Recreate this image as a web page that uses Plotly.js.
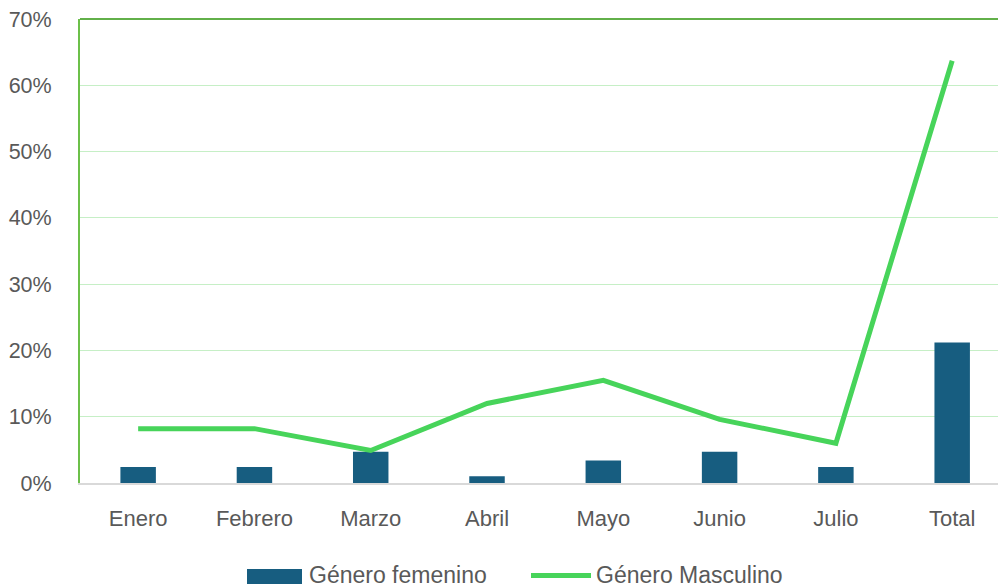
<!DOCTYPE html>
<html>
<head>
<meta charset="utf-8">
<script src="https://cdn.plot.ly/plotly-3.0.1.min.js"></script>
<style>html,body{margin:0;padding:0;background:#fff;}#chart{width:998px;height:588px;}</style>
</head>
<body>
<div id="chart"></div>
<script>
const categories = ["Enero", "Febrero", "Marzo", "Abril", "Mayo", "Junio", "Julio", "Total"];
const femenino = [0.024, 0.024, 0.047, 0.010, 0.034, 0.047, 0.024, 0.212];
const masculino = [0.082, 0.082, 0.049, 0.120, 0.155, 0.096, 0.060, 0.637];
const yTicks = [0, 0.1, 0.2, 0.3, 0.4, 0.5, 0.6, 0.7];
const yTickText = ["0%", "10%", "20%", "30%", "40%", "50%", "60%", "70%"];
const seriesNames = ["Género femenino", "Género Masculino"];

const font = "Liberation Sans, Arial, sans-serif";
const barColor = "#175d80";
const lineColor = "#47d45a";

// plot area in pixels (for the hand-built legend)
const L = 80, T = 19, W = 918, H = 464;
const px = x => (x - L) / W;
const py = y => (T + H - y) / H;

const traces = [
  {
    type: "bar",
    name: seriesNames[0],
    x: categories,
    y: femenino,
    width: 0.305,
    marker: {color: barColor},
    hoverinfo: "skip"
  },
  {
    type: "scatter",
    mode: "lines",
    name: seriesNames[1],
    x: categories,
    y: masculino,
    line: {color: lineColor, width: 5},
    hoverinfo: "skip"
  }
];

const layout = {
  width: 998,
  height: 588,
  margin: {l: L, r: 998 - L - W, t: T, b: 588 - T - H, autoexpand: false},
  paper_bgcolor: "#ffffff",
  plot_bgcolor: "#ffffff",
  font: {family: font, size: 21, color: "#595959"},
  showlegend: false,
  xaxis: {
    type: "category",
    range: [-0.5, 7.394],
    showgrid: false,
    showline: true,
    linecolor: "#d9d9d9",
    linewidth: 1.5,
    ticks: "",
    ticklabelstandoff: 15,
    tickfont: {family: font, size: 22, color: "#595959"},
    zeroline: false,
    fixedrange: true
  },
  yaxis: {
    range: [0, 0.7],
    tickvals: yTicks,
    ticktext: yTickText,
    showgrid: true,
    gridcolor: "#c6efc6",
    gridwidth: 1.2,
    showline: true,
    linecolor: "#6cc04a",
    linewidth: 2,
    zeroline: false,
    ticks: "",
    ticklabelstandoff: 22,
    tickfont: {family: font, size: 21.5, color: "#595959"},
    fixedrange: true
  },
  shapes: [
    {type: "line", xref: "paper", yref: "paper", x0: 0, x1: 1, y0: 1, y1: 1,
     line: {color: "#62b04a", width: 2}},
    // legend swatches
    {type: "rect", xref: "paper", yref: "paper",
     x0: px(247), x1: px(302), y0: py(584), y1: py(569),
     fillcolor: barColor, line: {width: 0}},
    {type: "line", xref: "paper", yref: "paper",
     x0: px(531), x1: px(591), y0: py(575.5), y1: py(575.5),
     line: {color: lineColor, width: 5}}
  ],
  annotations: [
    {xref: "paper", yref: "paper", x: px(307), y: py(575), xanchor: "left", yanchor: "middle",
     text: seriesNames[0], showarrow: false, font: {family: font, size: 23, color: "#595959"}},
    {xref: "paper", yref: "paper", x: px(594), y: py(575), xanchor: "left", yanchor: "middle",
     text: seriesNames[1], showarrow: false, font: {family: font, size: 23, color: "#595959"}}
  ]
};

Plotly.newPlot("chart", traces, layout, {displayModeBar: false, staticPlot: true});
</script>
</body>
</html>
